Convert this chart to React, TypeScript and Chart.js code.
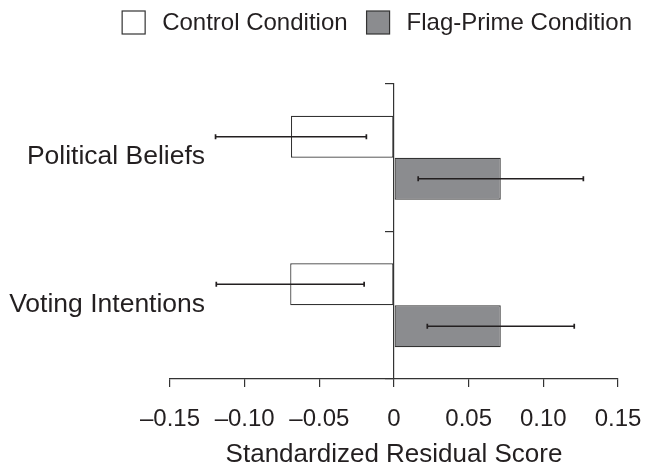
import React, { useEffect, useRef } from "react";
import { Chart, registerables } from "chart.js";

Chart.register(...registerables);

const categories = ["Political Beliefs", "Voting Intentions"];
const seriesNames = ["Control Condition", "Flag-Prime Condition"];
const controlValues = [-0.069, -0.0695];
const flagValues = [0.0715, 0.0715];
const controlErrors = [0.0505, 0.0495];
const flagErrors = [0.0553, 0.0492];
const xTickValues = [-0.15, -0.1, -0.05, 0, 0.05, 0.1, 0.15];
const xTickLabels = ["–0.15", "–0.10", "–0.05", "0", "0.05", "0.10", "0.15"];
const axisTitle = "Standardized Residual Score";

const FONT = '"Liberation Sans", Arial, Helvetica, sans-serif';
const INK = "#231f20";
const LINE = "#333333";
const GRAY = "#8b8c8f";

const errorBarPlugin = {
  id: "errorBars",
  afterDatasetsDraw(chart: any) {
    const ctx = chart.ctx;
    const xs = chart.scales.x;
    chart.data.datasets.forEach((ds: any, di: number) => {
      const meta = chart.getDatasetMeta(di);
      if (!ds.errors) return;
      meta.data.forEach((bar: any, i: number) => {
        const v = ds.data[i];
        const e = ds.errors[i];
        const x1 = xs.getPixelForValue(v - e);
        const x2 = xs.getPixelForValue(v + e);
        const y = bar.y;
        ctx.save();
        ctx.strokeStyle = INK;
        ctx.lineWidth = 1.7;
        ctx.beginPath();
        ctx.moveTo(x1, y);
        ctx.lineTo(x2, y);
        ctx.moveTo(x1, y - 2.5);
        ctx.lineTo(x1, y + 2.5);
        ctx.moveTo(x2, y - 2.5);
        ctx.lineTo(x2, y + 2.5);
        ctx.stroke();
        ctx.restore();
      });
    });
  },
};

const legendPlugin = {
  id: "customLegend",
  afterDraw(chart: any) {
    const ctx = chart.ctx;
    const box = 23;
    const gap = 17;
    const itemGap = 19;
    const rightEdge = 632;
    const cy = 22.5;
    ctx.save();
    ctx.font = `24px ${FONT}`;
    const items = chart.data.datasets.map((ds: any) => ({
      label: ds.label,
      fill: ds.backgroundColor,
      w: ctx.measureText(ds.label).width,
    }));
    const total =
      items.reduce((s: number, it: any) => s + box + gap + it.w, 0) +
      itemGap * (items.length - 1);
    let x = rightEdge - total;
    items.forEach((it: any) => {
      ctx.fillStyle = it.fill;
      ctx.fillRect(x, cy - box / 2, box, box);
      ctx.strokeStyle = LINE;
      ctx.lineWidth = 1.2;
      ctx.strokeRect(x, cy - box / 2, box, box);
      ctx.fillStyle = INK;
      ctx.textBaseline = "middle";
      ctx.textAlign = "left";
      ctx.fillText(it.label, x + box + gap, cy + 1);
      x += box + gap + it.w + itemGap;
    });
    ctx.restore();
  },
};

export default function App() {
  const ref = useRef<HTMLCanvasElement | null>(null);

  useEffect(() => {
    if (!ref.current) return;
    const chart = new Chart(ref.current, {
      type: "bar",
      data: {
        labels: categories,
        datasets: [
          {
            label: seriesNames[0],
            data: controlValues,
            errors: controlErrors,
            backgroundColor: "#ffffff",
            borderColor: LINE,
            borderWidth: 1.2,
            borderSkipped: false,
            categoryPercentage: 0.57,
            barPercentage: 1.0,
            yAxisID: "y",
          } as any,
          {
            label: seriesNames[1],
            data: flagValues,
            errors: flagErrors,
            backgroundColor: GRAY,
            borderColor: LINE,
            borderWidth: 1.2,
            borderSkipped: false,
            categoryPercentage: 0.57,
            barPercentage: 1.0,
            yAxisID: "y",
          } as any,
        ],
      },
      options: {
        indexAxis: "y",
        animation: false,
        responsive: true,
        maintainAspectRatio: false,
        events: [],
        layout: { padding: { top: 84, right: 30, bottom: 0, left: 0 } },
        plugins: {
          legend: { display: false },
          tooltip: { enabled: false },
        },
        scales: {
          x: {
            type: "linear",
            min: -0.15,
            max: 0.15,
            afterBuildTicks: (s: any) => {
              s.ticks = xTickValues.map((v) => ({ value: v }));
            },
            afterFit: (s: any) => {
              s.height = 91;
              s.paddingLeft = 0;
              s.paddingRight = 0;
            },
            ticks: {
              callback: (_v: any, i: number) => xTickLabels[i],
              font: { family: FONT, size: 24 },
              color: INK,
              padding: 18,
              maxRotation: 0,
              autoSkip: false,
            },
            grid: {
              drawOnChartArea: false,
              drawTicks: true,
              tickLength: 8,
              color: LINE,
              lineWidth: 1.2,
            },
            border: { display: true, color: LINE, width: 1.2 },
            title: {
              display: true,
              text: axisTitle,
              font: { family: FONT, size: 26 },
              color: INK,
              padding: { top: 0, bottom: 0 },
            },
          },
          y: {
            type: "category",
            offset: true,
            afterFit: (s: any) => {
              s.width = 170;
            },
            ticks: { display: false },
            grid: { display: false },
            border: { display: false },
          },
          yLabels: {
            type: "category",
            axis: "y",
            position: { x: -0.1265 },
            offset: true,
            ticks: {
              font: { family: FONT, size: 26.5 },
              color: INK,
              padding: 0,
              labelOffset: -1,
            },
            grid: { display: false },
            border: { display: false },
          },
          y2: {
            type: "category",
            axis: "y",
            position: { x: 0 },
            offset: true,
            ticks: { display: false },
            grid: {
              offset: true,
              drawOnChartArea: false,
              drawTicks: true,
              tickLength: 8,
              color: LINE,
              lineWidth: 1.2,
            },
            border: { display: true, color: LINE, width: 1.2 },
          },
        } as any,
      },
      plugins: [errorBarPlugin, legendPlugin],
    });
    return () => chart.destroy();
  }, []);

  return (
    <div
      style={{
        position: "absolute",
        left: 0,
        top: 0,
        width: 648,
        height: 470,
        background: "#ffffff",
      }}
    >
      <canvas ref={ref} />
    </div>
  );
}
